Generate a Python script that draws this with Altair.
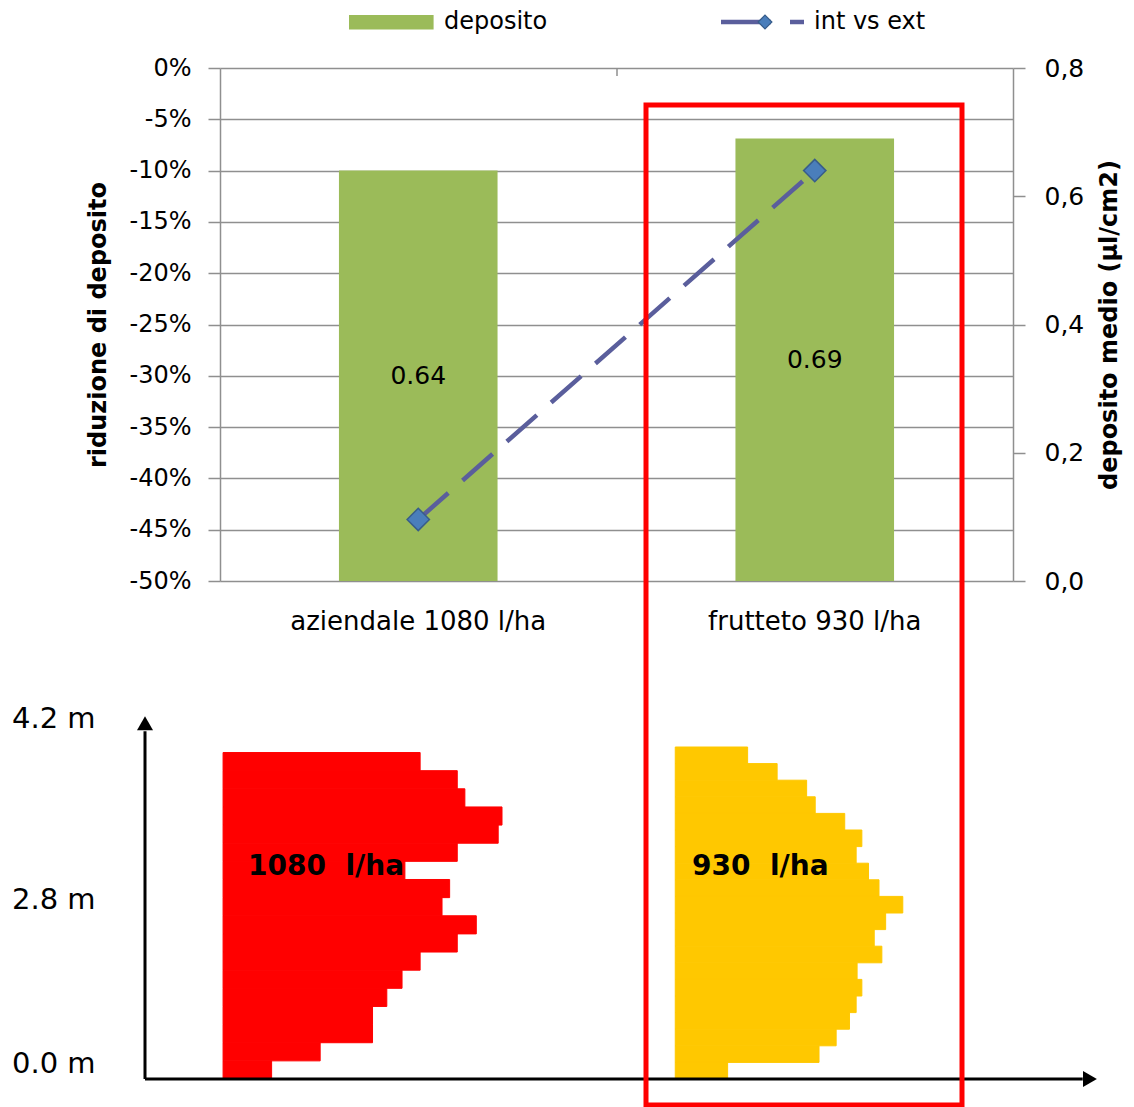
import altair as alt
import pandas as pd

# ---------------- data ----------------
categories = ["aziendale 1080 l/ha", "frutteto 930 l/ha"]
deposito_medio = [0.64, 0.69]        # µl/cm2, bars, right axis
int_vs_ext = [-0.44, -0.10]          # riduzione di deposito, line, left axis
left_ticks = [0.0, -0.05, -0.10, -0.15, -0.20, -0.25, -0.30, -0.35, -0.40, -0.45, -0.50]
right_ticks = [0.0, 0.2, 0.4, 0.6, 0.8]
legend_labels = ["deposito", "int vs ext"]
axis_titles = ["riduzione di deposito", "deposito medio (µl/cm2)"]

# vertical spray profiles (row widths, top row first, arbitrary width units)
height_labels = ["4.2 m", "2.8 m", "0.0 m"]
profile_names = ["1080\u00a0 l/ha", "930\u00a0 l/ha"]
red_widths = [20.7, 24.6, 25.4, 29.3, 28.9, 24.6, 19.1, 23.8, 23.0, 26.6,
              24.6, 20.7, 18.8, 17.2, 15.7, 15.7, 10.2, 5.1]
gold_widths = [7.6, 10.7, 13.8, 14.7, 17.8, 19.6, 19.0, 20.3, 21.4, 23.9,
               22.1, 20.9, 21.7, 19.1, 19.6, 19.0, 18.3, 16.9, 15.1, 5.5]
profile_base = [8.2, 55.7]     # where each profile starts on the width axis
profile_top = [4.13, 4.2]      # profile height in m

FONT = "DejaVu Sans"
GRID = "#8f8f8f"
LINE = "#5a5e9c"
MARK_FILL = "#4a7ebb"
MARK_STROKE = "#385d8a"
BAR = "#9bbb59"
RED = "#ff0000"
GOLD = "#ffc800"

# ---------------- top chart ----------------
top_df = pd.DataFrame({"cat": categories, "deposito": deposito_medio, "riduzione": int_vs_ext})
top_df["mid"] = top_df["deposito"] / 2
top_df["label"] = [f"{v:.2f}" for v in deposito_medio]


def x_scale():
    return alt.Scale(domain=categories, paddingInner=0.6, paddingOuter=0.3)


x_cat = alt.X("cat:N", scale=x_scale(),
              axis=alt.Axis(title=None, labelAngle=0, labelFontSize=26, labelColor="black",
                            labelPadding=27, labelLimit=500, domain=False, ticks=False,
                            tickSize=0, orient="bottom"))


def x_plain():
    return alt.X("cat:N", scale=x_scale(), axis=None)


def y_dep():
    return alt.Scale(domain=[0, 0.8], nice=False, zero=False)


right_axis = alt.Axis(orient="right", values=right_ticks,
                      labelExpr="replace(format(datum.value, '.1f'), '.', ',')",
                      labelFontSize=25, labelColor="black", labelPadding=19,
                      tickSize=12, tickColor=GRID, tickWidth=1.5,
                      domainColor=GRID, domainWidth=1.5, grid=False,
                      title=axis_titles[1], titleFontSize=24, titleFontWeight="bold",
                      titleColor="black", titleAngle=270, titleBaseline="top", titlePadding=14)

bars = alt.Chart(top_df).mark_bar(color=BAR).encode(
    x=x_cat, y=alt.Y("deposito:Q", scale=y_dep(), axis=right_axis))
bar_text = alt.Chart(top_df).mark_text(fontSize=25, color="black").encode(
    x=x_plain(), y=alt.Y("mid:Q", scale=y_dep(), axis=None), text="label:N")

left_axis = alt.Axis(orient="left", values=left_ticks,
                     labelExpr="(datum.value < 0 ? '-' : '') + format(abs(datum.value) * 100, '.0f') + '%'",
                     labelFontSize=24, labelColor="black", labelPadding=17,
                     tickSize=12, tickColor=GRID, tickWidth=1.5,
                     domainColor=GRID, domainWidth=1.5,
                     grid=True, gridColor=GRID, gridWidth=1.5,
                     title=axis_titles[0], titleFontSize=24, titleFontWeight="bold",
                     titleColor="black", titlePadding=18)


def y_rid():
    return alt.Scale(domain=[-0.5, 0], nice=False, zero=False)


line = alt.Chart(top_df).mark_line(color=LINE, strokeWidth=4.5, strokeDash=[40, 19]).encode(
    x=x_plain(), y=alt.Y("riduzione:Q", scale=y_rid(), axis=left_axis))
pts = alt.Chart(top_df).mark_point(shape="diamond", filled=True, color=MARK_FILL, stroke=MARK_STROKE,
                                   strokeWidth=1.5, size=500, opacity=1).encode(
    x=x_plain(), y=alt.Y("riduzione:Q", scale=y_rid(), axis=None))

# ---------------- bottom profiles ----------------


def bx():
    return alt.Scale(domain=[0, 100], range=[-75, 877], nice=False, zero=False)


def by():
    return alt.Scale(domain=[0, 4.2], range=[1011, 679], nice=False, zero=False)


profile_layers = []
for widths, base, topm, col in zip([red_widths, gold_widths], profile_base, profile_top, [RED, GOLD]):
    h = topm / len(widths)
    rows = []
    for i, w in enumerate(widths):          # top row first
        top_y = topm - i * h
        rows.append({"x": base, "x2": base + w, "y": top_y - h, "y2": top_y})
    df = pd.DataFrame(rows)
    profile_layers.append(
        alt.Chart(df).mark_rect(color=col, stroke=col, strokeWidth=1, opacity=1).encode(
            x=alt.X("x:Q", scale=bx(), axis=None), x2="x2:Q",
            y=alt.Y("y:Q", scale=by(), axis=None), y2="y2:Q"))

axes_df = pd.DataFrame({"x": [0, 0], "x2": [98.5, 0], "y": [0, 0], "y2": [0, 4.4]})
ax_lines = alt.Chart(axes_df).mark_rule(color="black", strokeWidth=3).encode(
    x=alt.X("x:Q", scale=bx(), axis=None), x2="x2:Q",
    y=alt.Y("y:Q", scale=by(), axis=None), y2="y2:Q")
heads_df = pd.DataFrame({"x": [99.26, 0], "y": [0, 4.5], "shape": ["triangle-right", "triangle-up"]})
heads = alt.Chart(heads_df).mark_point(filled=True, color="black", opacity=1, size=256).encode(
    x=alt.X("x:Q", scale=bx(), axis=None), y=alt.Y("y:Q", scale=by(), axis=None),
    shape=alt.Shape("shape:N", scale=None, legend=None))

# ---------------- decorations (legend, labels, box) ----------------
one = pd.DataFrame({"k": [0]})


def deco():
    return alt.Chart(one)


decor = []
decor.append(deco().mark_rect(color=BAR).encode(
    x=alt.value(129), x2=alt.value(213.6), y=alt.value(-53), y2=alt.value(-38.5)))
decor.append(deco().mark_text(align="left", baseline="middle", fontSize=24, color="black").encode(
    x=alt.value(224), y=alt.value(-46), text=alt.value(legend_labels[0])))
decor.append(deco().mark_rule(color=LINE, strokeWidth=4.5).encode(
    x=alt.value(501), x2=alt.value(551), y=alt.value(-46)))
decor.append(deco().mark_rule(color=LINE, strokeWidth=4.5).encode(
    x=alt.value(570), x2=alt.value(584), y=alt.value(-46)))
decor.append(deco().mark_point(shape="diamond", filled=True, color=MARK_FILL, stroke=MARK_STROKE,
                               strokeWidth=1.2, size=190, opacity=1).encode(
    x=alt.value(545), y=alt.value(-46)))
decor.append(deco().mark_text(align="left", baseline="middle", fontSize=24, color="black").encode(
    x=alt.value(594), y=alt.value(-46), text=alt.value(legend_labels[1])))
decor.append(deco().mark_rule(color=GRID, strokeWidth=1.5).encode(
    x=alt.value(397), y=alt.value(0), y2=alt.value(8)))
for lab, ypix in zip(height_labels, [651, 832, 996]):
    decor.append(deco().mark_text(align="left", baseline="middle", fontSize=29, color="black").encode(
        x=alt.value(-208), y=alt.value(ypix), text=alt.value(lab)))
for lab, xpix in zip(profile_names, [28, 472]):
    decor.append(deco().mark_text(align="left", baseline="middle", fontSize=28, fontWeight="bold",
                                  color="black").encode(
        x=alt.value(xpix), y=alt.value(799), text=alt.value(lab)))
decor.append(deco().mark_rect(fillOpacity=0, stroke=RED, strokeWidth=5).encode(
    x=alt.value(426), x2=alt.value(742), y=alt.value(37), y2=alt.value(1037)))

chart = alt.layer(
    bars, bar_text, line, pts, *profile_layers, ax_lines, heads, *decor
).resolve_scale(
    x="independent", y="independent"
).properties(
    width=793, height=513,
    autosize=alt.AutoSizeParams(type="none"),
    padding={"left": 212, "top": 60, "right": 113, "bottom": 526},
).configure(font=FONT).configure_view(strokeWidth=0)

chart.save("out.html", embed_options={"renderer": "svg", "actions": False})
